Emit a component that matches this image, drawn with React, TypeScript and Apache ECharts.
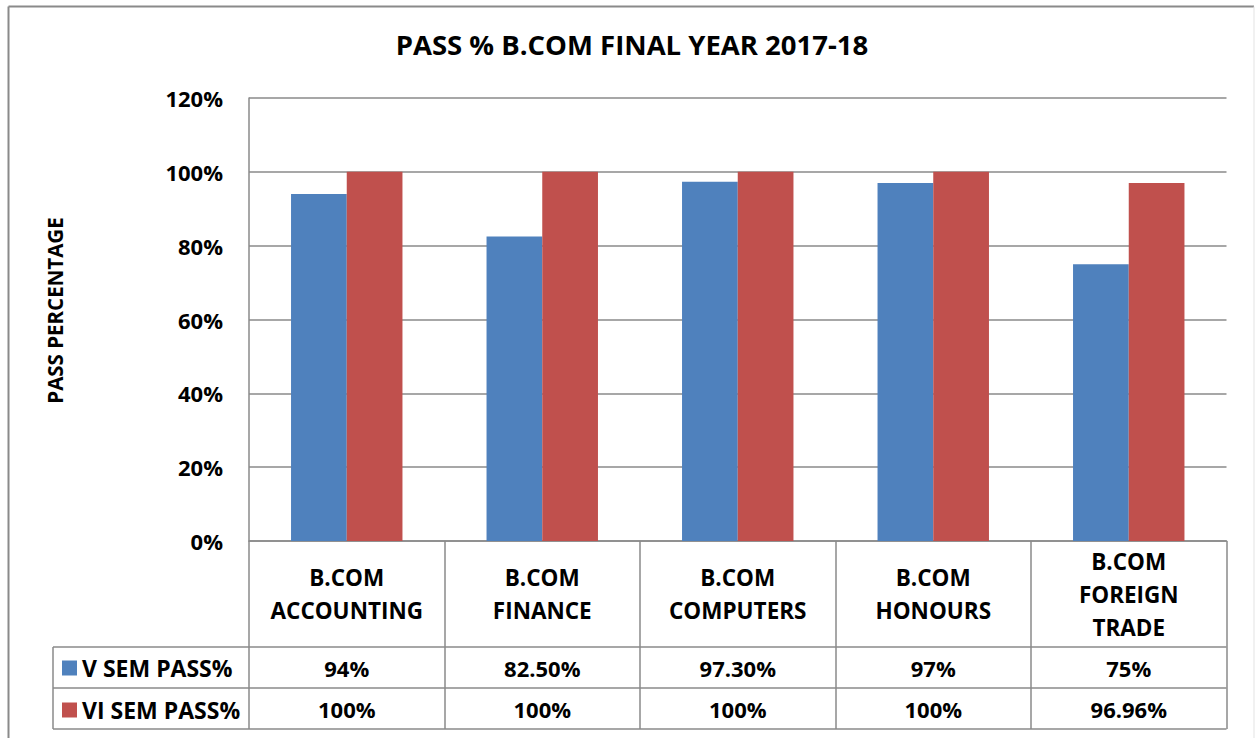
import React, { useEffect, useRef } from "react";
import * as echarts from "echarts";

const categories = [
  "B.COM\nACCOUNTING",
  "B.COM\nFINANCE",
  "B.COM\nCOMPUTERS",
  "B.COM\nHONOURS",
  "B.COM\nFOREIGN\nTRADE",
];
const vSemValues = [94, 82.5, 97.3, 97, 75];
const viSemValues = [100, 100, 100, 100, 96.96];
const vSemLabels = ["94%", "82.50%", "97.30%", "97%", "75%"];
const viSemLabels = ["100%", "100%", "100%", "100%", "96.96%"];
const seriesNames = ["V SEM PASS%", "VI SEM PASS%"];
const titleText = "PASS % B.COM FINAL YEAR 2017-18";
const yAxisName = "PASS PERCENTAGE";

const W = 1255;
const H = 738;
const GL = 249;
const GR = 1226.5;
const GT = 98;
const GB = 541;
const HEADER_H = 106;
const ROW_H = 41;
const TABLE_LEFT = 53;
const FONT = "'Open Sans', 'Noto Sans', sans-serif";
const GRAY = "#8a8a8a";

export default function App() {
  const ref = useRef<HTMLDivElement>(null);
  useEffect(() => {
    if (!ref.current) return;
    const chart = echarts.init(ref.current, undefined, { renderer: "svg" });
    const row1Y = GB + HEADER_H;
    const row2Y = row1Y + ROW_H;
    const row3Y = row2Y + ROW_H;
    const hLine = (y: number, x1: number) => ({
      type: "line",
      shape: { x1, y1: y, x2: GR, y2: y },
      style: { stroke: GRAY, lineWidth: 1.5 },
      silent: true,
    });
    chart.setOption({
      animation: false,
      backgroundColor: "#ffffff",
      title: {
        text: titleText,
        left: 632,
        top: 30,
        textAlign: "center",
        padding: 0,
        textStyle: { fontFamily: FONT, fontWeight: "bold", fontSize: 27.5, color: "#000" },
      },
      legend: {
        orient: "vertical",
        left: 62,
        top: row1Y + 9.5,
        padding: 0,
        itemWidth: 15,
        itemHeight: 15,
        itemGap: 19,
        icon: "rect",
        data: seriesNames,
        selectedMode: false,
        textStyle: { fontFamily: FONT, fontWeight: "bold", fontSize: 23, lineHeight: 22, color: "#000" },
      },
      grid: { left: GL, right: W - GR, top: GT, bottom: H - GB },
      xAxis: [
        {
          type: "category",
          data: categories,
          axisLine: { show: true, lineStyle: { color: GRAY, width: 1.5 } },
          axisTick: { show: true, interval: 0, length: HEADER_H + 2 * ROW_H, lineStyle: { color: GRAY, width: 1.5 } },
          axisLabel: {
            interval: 0,
            margin: HEADER_H / 2,
            verticalAlign: "middle",
            lineHeight: 33,
            fontFamily: FONT,
            fontWeight: "bold",
            fontSize: 22.5,
            color: "#000",
          },
        },
        {
          type: "category",
          data: categories,
          position: "bottom",
          axisLine: { show: false },
          axisTick: { show: false },
          axisLabel: {
            interval: 0,
            margin: HEADER_H + ROW_H / 2,
            verticalAlign: "middle",
            formatter: (_v: string, i: number) => vSemLabels[i],
            fontFamily: FONT,
            fontWeight: "bold",
            fontSize: 22,
            color: "#000",
          },
        },
        {
          type: "category",
          data: categories,
          position: "bottom",
          axisLine: { show: false },
          axisTick: { show: false },
          axisLabel: {
            interval: 0,
            margin: HEADER_H + ROW_H * 1.5,
            verticalAlign: "middle",
            formatter: (_v: string, i: number) => viSemLabels[i],
            fontFamily: FONT,
            fontWeight: "bold",
            fontSize: 22,
            color: "#000",
          },
        },
      ],
      yAxis: {
        type: "value",
        min: 0,
        max: 120,
        interval: 20,
        name: yAxisName,
        nameLocation: "middle",
        nameGap: 184,
        nameRotate: 90,
        nameTextStyle: {
          fontFamily: FONT,
          fontWeight: "bold",
          fontSize: 20.5,
          color: "#000",
          padding: [0, 0, 0, 18],
        },
        axisLine: { show: true, lineStyle: { color: GRAY, width: 1.5 } },
        axisTick: { show: false },
        splitLine: { show: true, lineStyle: { color: GRAY, width: 1.5 } },
        axisLabel: {
          margin: 26,
          formatter: (v: number) => `${v}%`,
          fontFamily: FONT,
          fontWeight: "bold",
          fontSize: 22,
          color: "#000",
        },
      },
      series: [
        {
          name: seriesNames[0],
          type: "bar",
          data: vSemValues,
          itemStyle: { color: "#4F81BD" },
          barGap: "0%",
          barCategoryGap: "43%",
        },
        {
          name: seriesNames[1],
          type: "bar",
          data: viSemValues,
          itemStyle: { color: "#C0504D" },
          barGap: "0%",
          barCategoryGap: "43%",
        },
      ],
      graphic: [
        {
          type: "line",
          shape: { x1: 8.5, y1: 6.5, x2: 8.5, y2: H },
          style: { stroke: "#8a8a8a", lineWidth: 2 },
          silent: true,
        },
        {
          type: "line",
          shape: { x1: 8.5, y1: 6.5, x2: 1254, y2: 6.5 },
          style: { stroke: "#8a8a8a", lineWidth: 2 },
          silent: true,
        },
        {
          type: "line",
          shape: { x1: 1254, y1: 6.5, x2: 1254, y2: H },
          style: { stroke: "#e3e3e3", lineWidth: 1 },
          silent: true,
        },
        hLine(row1Y, TABLE_LEFT),
        hLine(row2Y, TABLE_LEFT),
        hLine(row3Y, TABLE_LEFT),
        {
          type: "line",
          shape: { x1: TABLE_LEFT, y1: row1Y, x2: TABLE_LEFT, y2: row3Y },
          style: { stroke: GRAY, lineWidth: 1.5 },
          silent: true,
        },
      ],
    });
    return () => chart.dispose();
  }, []);
  return (
    <div
      ref={ref}
      style={{ position: "fixed", left: 0, top: 0, width: W, height: H, background: "#fff" }}
    />
  );
}
